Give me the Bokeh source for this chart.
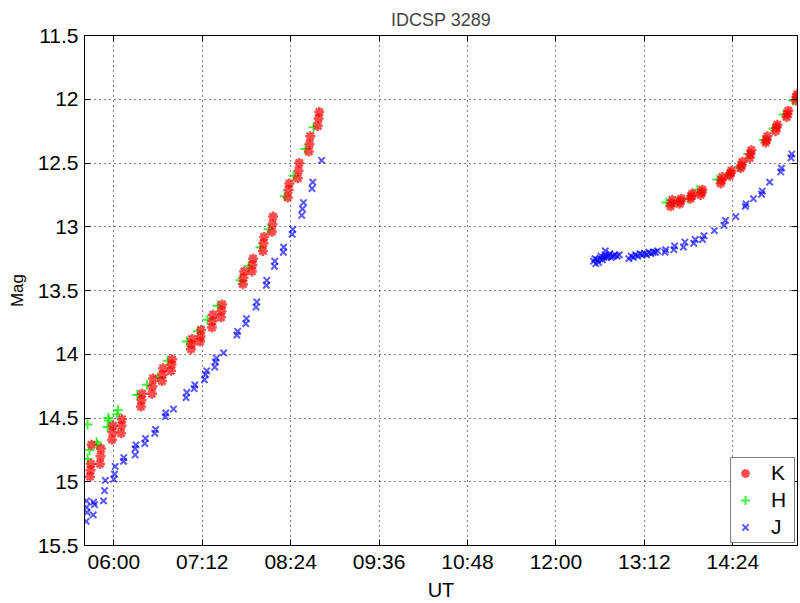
from bokeh.plotting import figure
from bokeh.models import (Range1d, FixedTicker, LinearAxis, Legend, LegendItem, Title)
from bokeh.embed import file_html
from bokeh.resources import INLINE

# ---------------- data (UT in decimal hours, magnitudes) ----------------
title_text = "IDCSP 3289"
x_ticks = [6.0, 7.2, 8.4, 9.6, 10.8, 12.0, 13.2, 14.4]
x_tick_labels = ["06:00", "07:12", "08:24", "09:36", "10:48", "12:00", "13:12", "14:24"]
y_ticks = [11.5, 12.0, 12.5, 13.0, 13.5, 14.0, 14.5, 15.0, 15.5]
y_tick_labels = ["11.5", "12", "12.5", "13", "13.5", "14", "14.5", "15", "15.5"]

k_time = [5.676, 5.684, 5.690, 5.697,
          5.812, 5.820, 5.826,
          5.976, 5.982, 5.988,
          6.098, 6.104, 6.110,
          6.368, 6.376, 6.384,
          6.517, 6.525, 6.533,
          6.653, 6.661, 6.669,
          6.775, 6.783, 6.791,
          7.046, 7.054, 7.062,
          7.169, 7.177, 7.185,
          7.331, 7.339, 7.347,
          7.454, 7.462, 7.470,
          7.752, 7.760, 7.768,
          7.874, 7.882, 7.890,
          8.023, 8.031, 8.039,
          8.145, 8.153, 8.161,
          8.361, 8.371, 8.381,
          8.496, 8.506, 8.516,
          8.646, 8.656, 8.666,
          8.768, 8.778, 8.788,
          13.555, 13.568, 13.580,
          13.678, 13.690, 13.702,
          13.827, 13.839, 13.851,
          13.963, 13.975, 13.987,
          14.235, 14.247, 14.259,
          14.357, 14.369, 14.381,
          14.506, 14.518, 14.530,
          14.628, 14.640, 14.652,
          14.845, 14.857, 14.869,
          14.981, 14.993, 15.005,
          15.130, 15.142, 15.154,
          15.252, 15.264, 15.274]
k_mag = [14.96, 14.91, 14.86, 14.71,
         14.86, 14.80, 14.74,
         14.67, 14.61, 14.56,
         14.62, 14.56, 14.51,
         14.41, 14.36, 14.31,
         14.31, 14.25, 14.19,
         14.21, 14.16, 14.11,
         14.13, 14.08, 14.04,
         13.96, 13.92, 13.88,
         13.90, 13.86, 13.81,
         13.79, 13.74, 13.69,
         13.71, 13.66, 13.61,
         13.45, 13.40, 13.35,
         13.35, 13.30, 13.25,
         13.19, 13.13, 13.08,
         13.04, 12.98, 12.92,
         12.77, 12.71, 12.66,
         12.62, 12.56, 12.50,
         12.41, 12.35, 12.29,
         12.21, 12.15, 12.10,
         12.84, 12.815, 12.79,
         12.82, 12.80, 12.78,
         12.78, 12.76, 12.74,
         12.75, 12.73, 12.71,
         12.66, 12.636, 12.61,
         12.60, 12.58, 12.56,
         12.54, 12.52, 12.49,
         12.46, 12.43, 12.40,
         12.34, 12.32, 12.29,
         12.25, 12.22, 12.20,
         12.14, 12.115, 12.09,
         12.01, 11.98, 11.96]

h_time = [5.643, 5.643, 5.670, 5.779, 5.766,
          5.915, 5.935, 5.925, 6.045, 6.055,
          6.320, 6.450, 6.600, 6.730, 6.990, 7.140, 7.270, 7.410,
          7.719, 7.830, 7.990, 8.100, 8.320, 8.440, 8.600, 8.710,
          13.50, 13.65, 13.80, 13.92, 14.19, 14.34, 14.48, 14.61,
          14.82, 14.95, 15.09, 15.22]
h_mag = [14.55, 14.82, 14.75, 14.71, 14.69,
         14.57, 14.52, 14.50, 14.47, 14.44,
         14.32, 14.24, 14.18, 14.05, 13.90, 13.82, 13.73, 13.62,
         13.42, 13.31, 13.16, 13.02, 12.76, 12.60, 12.39, 12.22,
         12.81, 12.80, 12.78, 12.71, 12.63, 12.59, 12.53, 12.43,
         12.32, 12.23, 12.12, 12.01]

j_time = [5.630, 5.630, 5.636, 5.625, 5.725, 5.720, 5.738,
          5.860, 5.874, 5.885, 6.000, 6.009, 6.018, 6.132, 6.135,
          6.290, 6.290, 6.300, 6.420, 6.430, 6.555, 6.566, 6.700, 6.705, 6.810,
          6.980, 6.990, 7.090, 7.100, 7.230, 7.245, 7.260, 7.370, 7.380, 7.390, 7.490,
          7.670, 7.680, 7.790, 7.800, 7.930, 7.940, 8.070, 8.075, 8.180, 8.185,
          8.300, 8.305, 8.420, 8.430, 8.550, 8.560, 8.575, 8.690, 8.700, 8.820,
          12.51, 12.53, 12.54, 12.56, 12.58, 12.60, 12.61, 12.63, 12.65, 12.67,
          12.69, 12.71, 12.73, 12.75, 12.78, 12.80, 12.83, 12.86, 12.67,
          12.99, 13.02, 13.05, 13.08, 13.11, 13.14, 13.17, 13.20, 13.23, 13.26,
          13.29, 13.32, 13.35, 13.38,
          13.48, 13.49, 13.60, 13.61, 13.73, 13.75, 13.87, 13.89, 13.99, 14.01,
          14.15, 14.28, 14.30, 14.44, 14.57, 14.58, 14.68, 14.79, 14.80, 14.90,
          15.05, 15.06, 15.19, 15.20]
j_mag = [15.15, 15.20, 15.24, 15.31, 15.16, 15.26, 15.18,
         15.15, 15.07, 14.99, 14.98, 14.94, 14.88, 14.84, 14.81,
         14.79, 14.74, 14.71, 14.70, 14.66, 14.62, 14.59, 14.49, 14.46, 14.43,
         14.34, 14.30, 14.27, 14.24, 14.20, 14.16, 14.13, 14.10, 14.06, 14.03, 13.99,
         13.85, 13.82, 13.76, 13.72, 13.63, 13.59, 13.46, 13.42, 13.31, 13.27,
         13.20, 13.16, 13.06, 13.02, 12.91, 12.86, 12.81, 12.70, 12.65, 12.48,
         13.27, 13.25, 13.29, 13.26, 13.28, 13.25, 13.23, 13.26, 13.24, 13.22,
         13.24, 13.23, 13.21, 13.24, 13.23, 13.22, 13.23, 13.22, 13.19,
         13.25, 13.23, 13.24, 13.22, 13.23, 13.21, 13.22, 13.21, 13.22, 13.20,
         13.21, 13.20, 13.20, 13.19,
         13.20, 13.18, 13.18, 13.15, 13.16, 13.12, 13.13, 13.10, 13.10, 13.07,
         13.03, 12.99, 12.95, 12.92, 12.84, 12.82, 12.78, 12.745, 12.72, 12.65,
         12.57, 12.54, 12.46, 12.43]

# ---------------- figure ----------------
FONT = "Liberation Sans"

title = Title(text=title_text, align="center", text_font=FONT,
              text_font_size="18px", text_font_style="normal",
              text_color="#444444", standoff=12)

p = figure(width=800, height=603, output_backend="svg", toolbar_location=None,
           title=title,
           x_range=Range1d(5.602, 15.278), y_range=Range1d(15.5, 11.5),
           min_border_left=84, min_border_right=3, min_border_top=35,
           min_border_bottom=54, background_fill_color="white",
           border_fill_color="white")

p.outline_line_color = "black"
p.outline_line_width = 1

for ax in (p.xaxis[0], p.yaxis[0]):
    ax.major_tick_in = 6
    ax.major_tick_out = 0
    ax.minor_tick_line_color = None
    ax.axis_line_color = "black"
    ax.major_tick_line_color = "black"
    ax.major_label_text_font = FONT
    ax.major_label_text_font_size = "21px"
    ax.major_label_text_color = "black"
    ax.axis_label_text_font = FONT
    ax.axis_label_text_font_style = "normal"
    ax.axis_label_text_color = "black"

p.xaxis.ticker = FixedTicker(ticks=x_ticks)
p.xaxis.major_label_overrides = dict(zip(x_ticks, x_tick_labels))
p.xaxis.axis_label = "UT"
p.xaxis.axis_label_text_font_size = "20px"
p.xaxis.major_label_standoff = 4
p.xaxis.axis_label_standoff = 3

p.yaxis.ticker = FixedTicker(ticks=y_ticks)
p.yaxis.major_label_overrides = dict(zip(y_ticks, y_tick_labels))
p.yaxis.axis_label = "Mag"
p.yaxis.axis_label_text_font_size = "17px"
p.yaxis.major_label_standoff = 6
p.yaxis.axis_label_standoff = 8

# top / right axes with ticks only
for loc, tick_vals in (("above", x_ticks), ("right", y_ticks)):
    ax = LinearAxis(ticker=FixedTicker(ticks=tick_vals),
                    major_label_overrides={t: "" for t in tick_vals},
                    major_label_text_font_size="0px", major_label_standoff=0,
                    major_tick_in=6, major_tick_out=0,
                    minor_tick_line_color=None, axis_line_color="black",
                    major_tick_line_color="black")
    p.add_layout(ax, loc)

p.xgrid.ticker = FixedTicker(ticks=x_ticks)
p.ygrid.ticker = FixedTicker(ticks=y_ticks)
for g in (p.xgrid[0], p.ygrid[0]):
    g.grid_line_color = "black"
    g.grid_line_dash = "1 4"
    g.grid_line_alpha = 1.0
    g.grid_line_width = 1

rj = p.scatter(j_time, j_mag, marker="x", size=9, line_color="blue",
               line_width=2, line_alpha=0.65)
rh = p.scatter(h_time, h_mag, marker="cross", size=10, line_color="#00ee00",
               line_width=2, line_alpha=0.75)
rk = p.scatter(k_time, k_mag, marker="asterisk", size=10, line_color="red",
               line_width=2.5, line_alpha=0.7)

legend = Legend(items=[LegendItem(label="K", renderers=[rk]),
                       LegendItem(label="H", renderers=[rh]),
                       LegendItem(label="J", renderers=[rj])],
                location="bottom_right")
legend.border_line_color = "black"
legend.border_line_width = 1
legend.background_fill_color = "white"
legend.background_fill_alpha = 1
legend.label_text_font = FONT
legend.label_text_font_size = "21px"
legend.label_text_color = "black"
legend.glyph_width = 22
legend.glyph_height = 22
legend.label_height = 22
legend.label_standoff = 15
legend.spacing = 3
legend.padding = 3
legend.margin = 2
p.add_layout(legend)

open("out.html", "w").write(file_html(p, INLINE))
